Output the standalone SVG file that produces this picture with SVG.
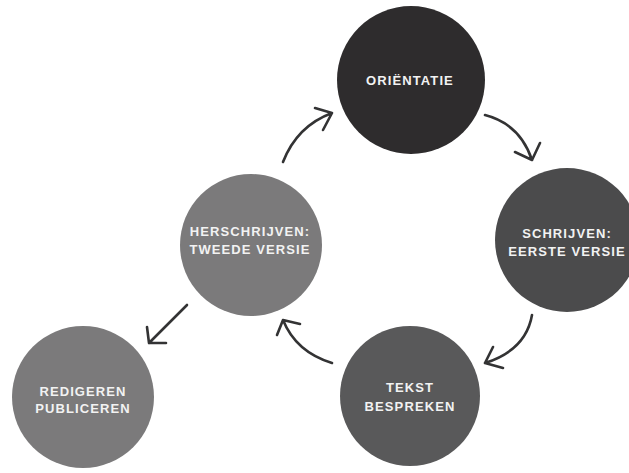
<svg xmlns="http://www.w3.org/2000/svg" width="629" height="473" viewBox="0 0 629 473">
<style>
.lbl{font-family:"Liberation Sans",Arial,sans-serif;font-weight:bold;font-size:13px;letter-spacing:1.1px;fill:#f2f2f2;text-anchor:middle}
.arr{fill:none;stroke:#333334;stroke-width:2.6;stroke-linecap:round;stroke-linejoin:round}
</style>
<rect width="629" height="473" fill="#ffffff"/>
<g id="orientatie">
<circle cx="411" cy="80" r="74" fill="#2e2c2d"/>
<text class="lbl" x="410" y="85">ORIËNTATIE</text>
</g>
<g id="schrijven">
<circle cx="567" cy="240" r="72" fill="#4b4b4c"/>
<text class="lbl" x="567" y="238">SCHRIJVEN:</text>
<text class="lbl" x="567" y="256">EERSTE VERSIE</text>
</g>
<g id="tekst">
<circle cx="410" cy="396" r="70" fill="#59595a"/>
<text class="lbl" x="410" y="392">TEKST</text>
<text class="lbl" x="410" y="411">BESPREKEN</text>
</g>
<g id="herschrijven">
<circle cx="251" cy="245" r="71" fill="#7b7a7b"/>
<text class="lbl" x="250" y="236">HERSCHRIJVEN:</text>
<text class="lbl" x="250" y="254">TWEEDE VERSIE</text>
</g>
<g id="redigeren">
<circle cx="83" cy="397" r="71" fill="#7b7a7b"/>
<text class="lbl" x="83" y="396">REDIGEREN</text>
<text class="lbl" x="83" y="413">PUBLICEREN</text>
</g>
<g id="connectors">
<path class="arr" d="M283,162 Q297,126 332,113 M315,108 L332,113 L323,130"/>
<path class="arr" d="M485,115 Q520,124 532,160 M515,152 L532,160 L540,143"/>
<path class="arr" d="M532,315 Q526,350 485,363 M493,347 L485,363 L503,368"/>
<path class="arr" d="M332,363 Q296,352 283,320 M277,335 L283,320 L300,324"/>
<path class="arr" d="M187,305 L149,343 M147,327 L149,343 L166,343"/>
</g>
</svg>
